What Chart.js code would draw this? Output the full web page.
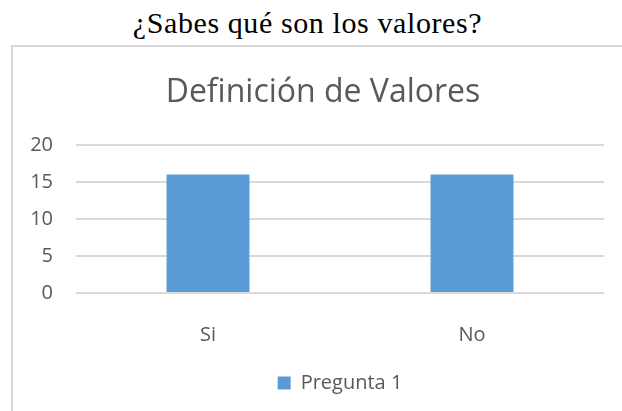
<!DOCTYPE html>
<html>
<head>
<meta charset="utf-8">
<script src="https://cdn.jsdelivr.net/npm/chart.js@4.4.1/dist/chart.umd.min.js"></script>
<style>
  html, body { margin: 0; padding: 0; background: #ffffff; overflow: hidden; }
  body { width: 622px; height: 411px; position: relative; }
  #heading {
    position: absolute; left: 0; width: 615px; top: 6px;
    text-align: center; font-family: "Liberation Serif", "Times New Roman", serif;
    font-size: 30px; letter-spacing: 0.6px; line-height: 34px; color: #000;
  }
  #frame {
    position: absolute; left: 11px; top: 45px; width: 640px; height: 400px;
    border-left: 2px solid #d9d9d9; border-top: 2px solid #d9d9d9;
  }
  #wrap { position: absolute; left: 0; top: 0; width: 646px; height: 411px; }
</style>
</head>
<body>
<div id="heading">¿Sabes qué son los valores?</div>
<div id="frame"></div>
<div id="wrap"><canvas id="c" width="646" height="411"></canvas></div>
<script>
const chartTitle = "Definición de Valores";
const categories = ["Si", "No"];
const seriesName = "Pregunta 1";
const seriesValues = [16, 16];
const yTicks = [0, 5, 10, 15, 20];

const textColor = "#595959";
const font = "'Open Sans', 'Noto Sans', sans-serif";

new Chart(document.getElementById("c"), {
  type: "bar",
  data: {
    labels: categories,
    datasets: [{
      label: seriesName,
      data: seriesValues,
      backgroundColor: "#5b9bd5",
      borderWidth: 0,
      categoryPercentage: 1.0,
      barPercentage: 0.314,
      yAxisID: "y"
    }]
  },
  options: {
    responsive: false,
    animation: false,
    devicePixelRatio: 1,
    layout: { padding: { left: 12, right: 12, top: 47, bottom: 8 } },
    plugins: {
      title: {
        display: true,
        text: chartTitle,
        color: textColor,
        font: { family: font, size: 32, weight: "normal", lineHeight: 1.2 },
        padding: { top: 27, bottom: 32.6 }
      },
      legend: {
        display: true,
        position: "bottom",
        fullSize: false,
        labels: {
          color: textColor,
          font: { family: font, size: 20 },
          boxWidth: 13,
          boxHeight: 13,
          padding: 10
        }
      },
      tooltip: { enabled: false }
    },
    scales: {
      x: {
        grid: { display: false },
        border: { display: false },
        ticks: { color: textColor, font: { family: font, size: 20 }, padding: 22 },
        afterFit: (s) => { s.height = 70; }
      },
      y: {
        position: "left",
        min: 0,
        max: 20,
        afterBuildTicks: (s) => { s.ticks = yTicks.map(v => ({ value: v })); },
        grid: { color: "#d9d9d9", lineWidth: 2, drawTicks: false },
        border: { display: false },
        ticks: { color: textColor, font: { family: font, size: 20 }, padding: 23 },
        afterFit: (s) => { s.width = 64; }
      },
      spacer: {
        type: "linear",
        position: "right",
        display: true,
        grid: { display: false, drawTicks: false },
        border: { display: false },
        ticks: { display: false },
        afterFit: (s) => { s.width = 30; }
      }
    }
  }
});
</script>
</body>
</html>
